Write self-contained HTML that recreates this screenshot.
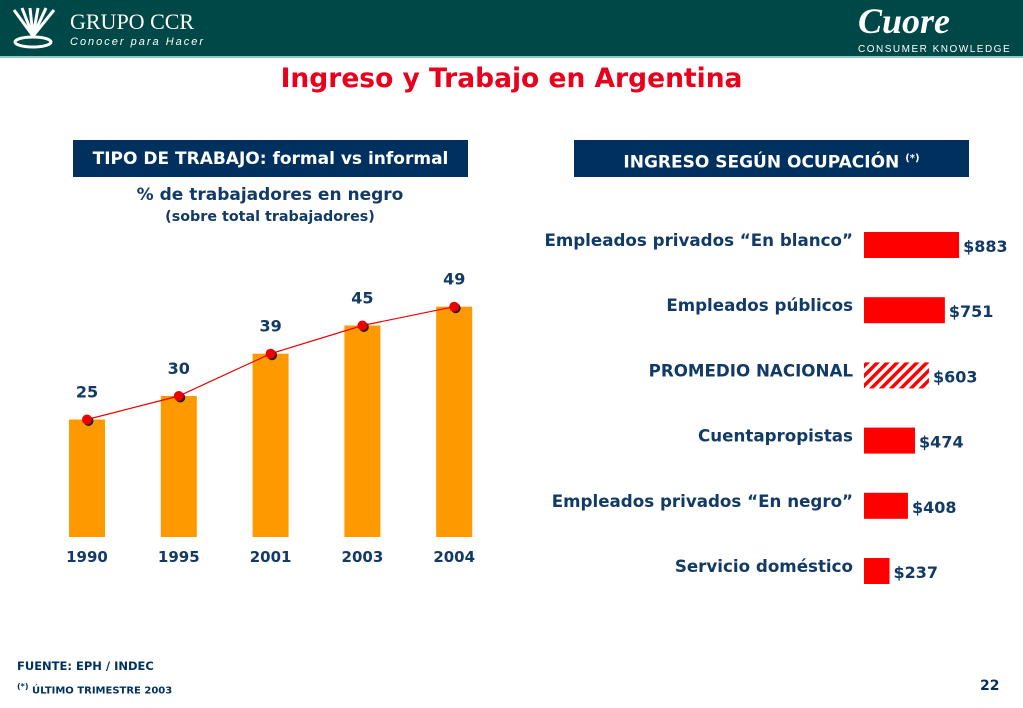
<!DOCTYPE html>
<html><head><meta charset="utf-8"><style>
body{margin:0;width:1023px;height:708px;background:#fff;position:relative;overflow:hidden;font-family:"DejaVu Sans",Verdana,sans-serif;}
.abs{position:absolute}
.navy{color:#123a66;font-weight:bold}
</style></head><body>
<div class="abs" style="left:0;top:0;width:1023px;height:56px;background:#004848;border-bottom:2px solid #8fc8c0"></div>
<svg class="abs" style="left:8px;top:6px" width="50" height="46"><g stroke="#fff" stroke-width="3" fill="none"><path d="M25 30 L6 4"/><path d="M25 30 L14 2"/><path d="M25 30 L22 2"/><path d="M25 30 L30 2"/><path d="M25 30 L38 2"/><path d="M25 30 L46 4"/><ellipse cx="25" cy="36" rx="18" ry="5"/></g></svg>
<div class="abs" style="left:70px;top:10px;color:#fff;font-family:'Liberation Serif',serif;font-size:22px;line-height:24px">GRUPO CCR</div>
<div class="abs" style="left:70px;top:36px;color:#fff;font-family:'Liberation Sans',sans-serif;font-size:11px;font-style:italic;letter-spacing:2px">Conocer para Hacer</div>
<div class="abs" style="left:858px;top:0px;color:#fff;font-family:'Liberation Serif',serif;font-style:italic;font-weight:bold;font-size:36px">Cuore</div>
<div class="abs" style="left:858px;top:44px;color:#fff;font-family:'Liberation Sans',sans-serif;font-size:10px;letter-spacing:1.5px">CONSUMER KNOWLEDGE</div>
<div class="abs" style="left:0;width:1023px;top:63px;text-align:center;color:#e8001c;font-weight:bold;font-size:26.5px">Ingreso y Trabajo en Argentina</div>
<div class="abs" style="left:73px;top:140px;width:395px;height:37px;background:#00305e;color:#fff;font-weight:bold;font-size:17px;line-height:39px;text-align:center">TIPO DE TRABAJO: formal vs informal</div>
<div class="abs" style="left:574px;top:140px;width:395px;height:37px;background:#00305e;color:#fff;font-weight:bold;font-size:17px;line-height:37px;text-align:center">INGRESO SEGÚN OCUPACIÓN <sup style="font-size:10px">(*)</sup></div>
<div class="abs navy" style="left:70px;width:400px;top:185px;text-align:center;font-size:17px">% de trabajadores en negro</div>
<div class="abs navy" style="left:70px;width:400px;top:209px;text-align:center;font-size:14.3px">(sobre total trabajadores)</div>
<svg class="abs" id="lc" style="left:0;top:0" width="1023" height="708"></svg>
<div class="abs" style="left:17px;top:659px;color:#00305e;font-weight:bold;font-size:11.5px">FUENTE: EPH / INDEC</div>
<div class="abs" style="left:17px;top:682px;color:#00305e;font-weight:bold;font-size:10px"><sup style="font-size:8px">(*)</sup> ÚLTIMO TRIMESTRE 2003</div>
<div class="abs" style="left:980px;top:678px;color:#00305e;font-weight:bold;font-size:14px">22</div>
<script>
const years=["1990","1995","2001","2003","2004"];
const pct=[25,30,39,45,49];
const occupations=["Empleados privados “En blanco”","Empleados públicos","PROMEDIO NACIONAL","Cuentapropistas","Empleados privados “En negro”","Servicio doméstico"];
const income=[883,751,603,474,408,237];
const incomeLabels=["$883","$751","$603","$474","$408","$237"];
const NS="http://www.w3.org/2000/svg";
const svg=document.getElementById('lc');
function mk(t,a,txt){const e=document.createElementNS(NS,t);for(const k in a)e.setAttribute(k,a[k]);if(txt!=null)e.textContent=txt;svg.appendChild(e);return e;}
const defs=mk('defs',{});
defs.innerHTML='<pattern id="hatch" width="7" height="7" patternUnits="userSpaceOnUse" patternTransform="rotate(45)"><rect width="7" height="7" fill="#fff"/><rect width="3.5" height="7" fill="#f00"/></pattern>';
const bx=i=>87+i*91.8, by=v=>537-v*4.7;
let pts=[];
years.forEach((y,i)=>{
 const r=mk('rect',{x:bx(i)-18,y:by(pct[i]),width:36,height:537-by(pct[i]),fill:'#ff9900'});
 
 
 const l=mk('text',{x:bx(i),y:by(pct[i])-22,'text-anchor':'middle','font-size':16,'font-weight':'bold',fill:'#123a66'},pct[i]);
 
 
 const t=mk('text',{x:bx(i),y:562,'text-anchor':'middle','font-size':15,'font-weight':'bold',fill:'#123a66'},y);
 
 
 pts.push(bx(i)+','+by(pct[i]));
});
const pl=mk('polyline',{points:pts.join(' '),fill:'none',stroke:'#e00',"stroke-width":1.2});


years.forEach((y,i)=>{
 mk('circle',{cx:bx(i)+1.5,cy:by(pct[i])+1.5,r:5,fill:'#222'});
 const c=mk('circle',{cx:bx(i),cy:by(pct[i]),r:5,fill:'#e00'});
 
 
});
const hx=864, hs=0.1077, hy=i=>245+i*65.2;
occupations.forEach((o,i)=>{
 const w=income[i]*hs;
 const r=mk('rect',{x:hx,y:hy(i)-13,width:w,height:26,fill:i==2?'url(#hatch)':'#f00'});
 
 
 const v=mk('text',{x:hx+w+4,y:hy(i)+7,'font-size':16,'font-weight':'bold',fill:'#123a66'},incomeLabels[i]);
 
 
 const c=mk('text',{x:853,y:hy(i)+1,'text-anchor':'end','font-size':16.7,'font-weight':'bold',fill:'#123a66'},o);
 
 
});
</script>
</body></html>
